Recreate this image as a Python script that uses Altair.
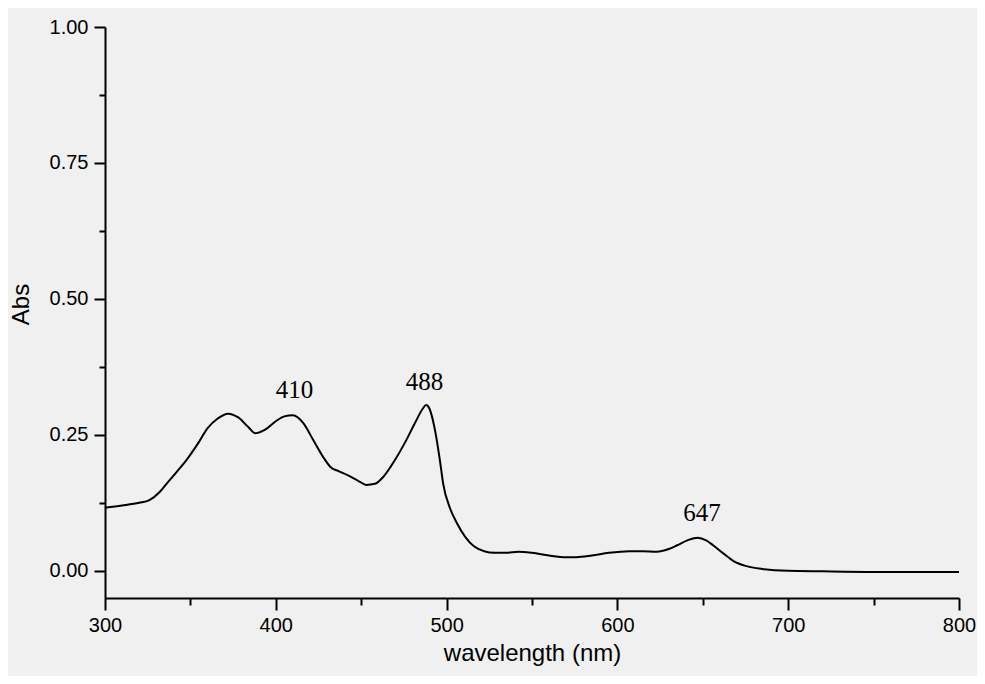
import altair as alt
import pandas as pd

wavelength = [300, 310, 320, 326, 332, 336, 342, 348, 354, 360, 366, 372, 378, 384,
              388, 394, 400, 405, 410, 416, 422, 428, 432, 437, 442, 448, 453, 458,
              463, 470, 476, 482, 486, 488, 490, 493, 496, 498, 502, 506, 511, 516,
              522, 528, 535, 542, 550, 560, 570, 576, 585, 595, 607, 615, 623, 630,
              635, 641, 647, 652, 656, 662, 668, 675, 686, 700, 720, 750, 800]
absorbance = [0.116, 0.120, 0.125, 0.130, 0.145, 0.160, 0.182, 0.205, 0.232, 0.262,
              0.280, 0.289, 0.282, 0.264, 0.253, 0.260, 0.275, 0.284, 0.286, 0.272,
              0.240, 0.208, 0.191, 0.183, 0.176, 0.166, 0.158, 0.160, 0.173, 0.205,
              0.238, 0.275, 0.298, 0.305, 0.298, 0.262, 0.205, 0.160, 0.115, 0.088,
              0.062, 0.045, 0.036, 0.033, 0.033, 0.035, 0.033, 0.028, 0.025, 0.025,
              0.028, 0.033, 0.036, 0.036, 0.035, 0.040, 0.047, 0.056, 0.061, 0.056,
              0.047, 0.032, 0.018, 0.009, 0.003, 0.000, -0.001, -0.002, -0.002]

peak_labels = ["410", "488", "647"]
peak_x = [411, 487, 649.5]
peak_y = [0.332, 0.347, 0.106]

x_major = [300, 400, 500, 600, 700, 800]
x_minor = [350, 450, 550, 650, 750]
y_major = [0.0, 0.25, 0.5, 0.75, 1.0]
y_minor = [0.125, 0.375, 0.625, 0.875]

df = pd.DataFrame({"wl": wavelength, "abs": absorbance})
lab = pd.DataFrame({"t": peak_labels, "x": peak_x, "y": peak_y})

xs = alt.Scale(domain=[300, 800], nice=False, zero=False)
ys = alt.Scale(domain=[-0.05, 1.0], nice=False, zero=False)

axis_common = dict(domainColor="black", domainWidth=2, tickColor="black", tickWidth=2,
                   labelColor="black", titleColor="black", labelFont="Liberation Sans",
                   titleFont="Liberation Sans", titleFontWeight="normal", grid=False,
                   labelFlush=False, labelOverlap=False)

x_axis = alt.Axis(values=x_major, format="d", orient="bottom", tickSize=12, labelFontSize=20,
                  labelPadding=5, title="wavelength (nm)", titleFontSize=24, titlePadding=6,
                  **axis_common)
y_axis = alt.Axis(values=y_major, format=".2f", orient="left", tickSize=11, labelFontSize=20,
                  labelPadding=6, title="Abs", titleFontSize=24, titlePadding=16, titleY=277,
                  **axis_common)

line = alt.Chart(df).mark_line(color="black", strokeWidth=2, interpolate="monotone").encode(
    x=alt.X("wl:Q", scale=xs, axis=x_axis),
    y=alt.Y("abs:Q", scale=ys, axis=y_axis),
)

minor = alt.Chart(df).mark_point(opacity=0).encode(
    x=alt.X("wl:Q", scale=xs, axis=alt.Axis(values=x_minor, orient="bottom", tickSize=7,
                                             labels=False, domain=False, title=None,
                                             tickColor="black", tickWidth=2, grid=False)),
    y=alt.Y("abs:Q", scale=ys, axis=alt.Axis(values=y_minor, orient="left", tickSize=6,
                                              labels=False, domain=False, title=None,
                                              tickColor="black", tickWidth=2, grid=False)),
)

text = alt.Chart(lab).mark_text(font="Liberation Serif", fontSize=25, color="black",
                                baseline="middle", align="center").encode(
    x=alt.X("x:Q", scale=xs, axis=None),
    y=alt.Y("y:Q", scale=ys, axis=None),
    text="t:N",
)

chart = alt.layer(line, minor, text).resolve_axis(x="independent", y="independent").properties(
    width=854, height=571,
    autosize=alt.AutoSizeParams(type="none"),
    padding={"left": 97, "top": 19, "right": 18, "bottom": 78},
    background="#f0f0f0",
).configure_view(stroke=None)

chart.save("out.html", embed_options={"renderer": "svg", "actions": False})
